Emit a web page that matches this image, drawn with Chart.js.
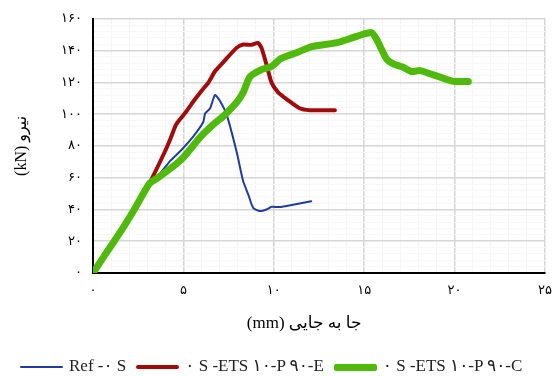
<!DOCTYPE html>
<html>
<head>
<meta charset="utf-8">
<script src="https://cdn.jsdelivr.net/npm/chart.js@4.4.0/dist/chart.umd.min.js"></script>
<style>
  body { margin: 0; background: #fff; }
  #wrap { position: relative; width: 552px; height: 376px; overflow: hidden; }
  #legenda { position: absolute; left: 20px; top: 355px; white-space: nowrap;
    font: 17px "Liberation Serif", "DejaVu Sans", serif; color: #222; line-height: 22px; }
  .item { display: inline-block; margin-right: 10px; }
  .amostra { display: inline-block; width: 43px; vertical-align: middle; margin-right: 6px; border-radius: 2px; }
</style>
</head>
<body>
<div id="wrap">
  <canvas id="grafico" width="552" height="376"></canvas>
  <div id="legenda"></div>
</div>
<script>
// dados (deslocamento mm, força kN)
const refX = [0, 0.83, 1.57, 2.3, 3.1, 3.6, 4.26, 4.9, 5.55, 6.1, 6.2, 6.47, 6.75, 7.0, 7.4, 7.95, 8.3, 8.6, 8.86, 9.23, 9.6, 9.87, 10.33, 11.06, 12.07];
const refY = [0, 14.5, 27, 40.5, 55.5, 61, 70.4, 77.6, 86, 95, 100.4, 103.5, 112, 108.7, 99.4, 76, 58, 49, 41, 39, 40, 41.7, 41.5, 43, 45.2];

const redX = [0, 0.83, 1.57, 2.3, 3.1, 3.96, 4.3, 4.6, 5.1, 5.65, 6.1, 6.39, 6.75, 7.2, 7.94, 8.31, 8.77, 9.13, 9.32, 9.6, 9.87, 10.24, 10.7, 11.43, 11.98, 13.38];
const redY = [0, 14, 26.5, 40.5, 56, 76, 85, 93.5, 100.8, 109.5, 116, 120, 127, 132.6, 141.7, 143.8, 143.6, 144.8, 141.7, 131, 120, 113.7, 109.5, 103.7, 102.5, 102.5];

const greenX = [0, 0.83, 1.57, 2.3, 3.1, 3.6, 4.37, 5.0, 5.93, 6.66, 7.2, 7.95, 8.31, 8.68, 9.32, 9.87, 10.4, 11.25, 12.1, 13.5, 14.6, 15.41, 15.69, 16.24, 16.61, 17.16, 17.62, 18.09, 18.82, 19.93, 20.76];
const greenY = [0, 14.3, 26.8, 40.3, 56, 60, 66.5, 72.8, 85.5, 93.5, 98.6, 107.5, 113.7, 123.5, 128, 130, 135, 138.6, 142.5, 145, 149, 151.3, 147, 134.7, 131.6, 129.5, 126.8, 127.4, 124.7, 120.6, 120.6];

const nomesSeries = ["Ref -۰ S", "۰ S -ETS ۱۰-P ۹۰-E", "۰ S -ETS ۱۰-P ۹۰-C"];
const coresSeries = ["#1f3c9e", "#a00c0c", "#4fb90c"];
const larguras = [2, 4, 7];

const tituloX = "(mm) جا به جایی\u00a0\u00a0\u00a0\u00a0\u00a0\u00a0\u00a0";
const tituloY = "(kN) نیرو";

function paraFarsi(n) {
  return String(n).replace(/[0-9]/g, d => "۰۱۲۳۴۵۶۷۸۹"[d]);
}
function pontos(xs, ys) {
  return xs.map((x, i) => ({ x: x, y: ys[i] }));
}

const fonteSerif = '"Liberation Serif", "DejaVu Sans", serif';

const series = [pontos(refX, refY), pontos(redX, redY), pontos(greenX, greenY)];
const ordem = [2, 1, 0];

const grafico = new Chart(document.getElementById("grafico"), {
  type: 'line',
  data: {
    datasets: series.map((s, i) => ({
      label: nomesSeries[i],
      data: s,
      borderColor: coresSeries[i],
      backgroundColor: coresSeries[i],
      borderWidth: larguras[i],
      pointRadius: 0,
      tension: 0.2,
      borderCapStyle: 'round',
      borderJoinStyle: 'round',
      order: ordem[i]
    }))
  },
  options: {
    responsive: false,
    animation: false,
    layout: { padding: { top: 16, right: 7, bottom: 38, left: 0 } },
    plugins: { legend: { display: false }, tooltip: { enabled: false } },
    scales: {
      x: {
        type: 'linear',
        min: 0,
        max: 25,
        afterFit: s => { s.height = 65; s.paddingRight = 0; s.paddingLeft = 0; },
        border: { color: '#000', width: 2 },
        grid: {
          drawTicks: false,
          color: c => (c.tick.value % 5 === 0 ? '#d6d6d6' : '#f5f5f5'),
          lineWidth: c => (c.tick.value % 5 === 0 ? 1.5 : 1)
        },
        ticks: {
          stepSize: 1,
          autoSkip: false,
          maxRotation: 0,
          padding: 10,
          color: '#000',
          font: { family: fonteSerif, size: 13 },
          callback: v => (v % 5 === 0 ? paraFarsi(v) : '')
        },
        title: {
          display: true,
          text: tituloX,
          color: '#000',
          font: { family: fonteSerif, size: 17 },
          padding: { top: 0, bottom: 4 }
        }
      },
      y: {
        min: 0,
        max: 160,
        afterFit: s => { s.width = 93; },
        border: { color: '#000', width: 2 },
        grid: {
          drawTicks: false,
          color: c => (c.tick.value % 20 === 0 ? '#d6d6d6' : '#f7f7f7'),
          lineWidth: c => (c.tick.value % 20 === 0 ? 1.5 : 1)
        },
        ticks: {
          stepSize: 4,
          autoSkip: false,
          padding: 11,
          color: '#000',
          font: { family: fonteSerif, size: 13 },
          callback: v => (v % 20 === 0 ? paraFarsi(v) : '')
        },
        title: {
          display: true,
          text: tituloY,
          color: '#000',
          font: { family: fonteSerif, size: 16 },
          padding: { top: 12, bottom: 0 }
        }
      }
    }
  }
});

// legenda em html
const legenda = document.getElementById("legenda");
grafico.data.datasets.forEach(d => {
  legenda.innerHTML += '<span class="item"><span class="amostra" style="height:' + d.borderWidth +
    'px;background:' + d.borderColor + '"></span>' + d.label + '</span>';
});
</script>
</body>
</html>
